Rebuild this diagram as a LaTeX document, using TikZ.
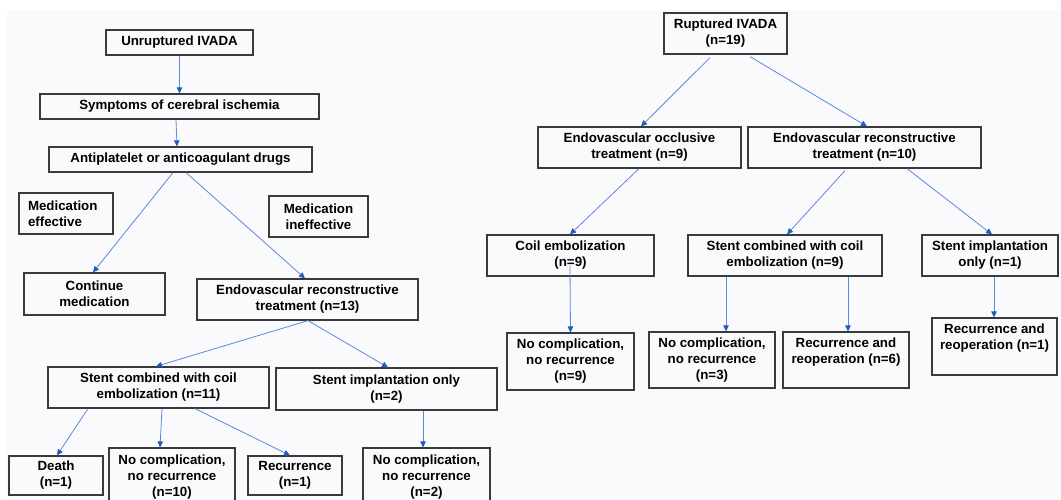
\documentclass[tikz,border=0pt]{standalone}
\usepackage{fontspec}
\setmainfont{Liberation Sans}
\usetikzlibrary{arrows.meta}
\definecolor{boxgray}{HTML}{3A3A3A}
\definecolor{lineblue}{HTML}{5A8AD8}
\definecolor{tipblue}{HTML}{1E5CC0}
\definecolor{bgtint}{HTML}{FAFAFD}
\begin{document}
\begin{tikzpicture}[x=1pt,y=-1pt,
 box/.style={draw=boxgray, line width=1.2pt, inner sep=0pt, align=center,
   font=\fontsize{13.3}{16}\selectfont\bfseries},
 conn/.style={draw=lineblue, line width=0.8pt,
   -{Triangle[length=6pt,width=5.5pt,color=tipblue]}},
]
\useasboundingbox (0,0) rectangle (1061,500);
\begin{scope}
\clip (0,0) rectangle (1061,500);
\fill[white] (0,0) rectangle (1061,500);
\fill[bgtint] (7,10) rectangle (1061,500);

% ---------- left tree ----------
\node[box, minimum width=147pt, minimum height=25pt] (unr) at (179.5,42.5) {Unruptured IVADA};
\node[box, minimum width=279pt, minimum height=25pt] (sym) at (179.5,106.5) {Symptoms of cerebral ischemia};
\node[box, minimum width=263pt, minimum height=25pt] (anti) at (180.5,159.5) {Antiplatelet or anticoagulant drugs};
\node[box, minimum height=41pt, text width=76pt, inner xsep=9pt, align=left] (meff) at (66,213.5) {Medication\\effective};
\node[box, minimum width=99pt, minimum height=41pt] (mineff) at (318.5,216.5) {Medication\\ineffective};
\node[box, minimum width=141pt, minimum height=42pt] (cont) at (94.5,294) {Continue\\medication};
\node[box, minimum width=221pt, minimum height=41pt] (endo13) at (307.5,299.5) {Endovascular reconstructive\\treatment (n=13)};
\node[box, minimum width=221pt, minimum height=41pt] (sc11) at (158.5,387.5) {Stent combined with coil\\embolization (n=11)};
\node[box, minimum width=221pt, minimum height=42pt] (si2) at (386.5,389) {Stent implantation only\\(n=2)};
\node[box, minimum width=94pt, minimum height=39pt] (death) at (56,475.5) {Death\\(n=1)};
\node[box, minimum width=126pt, minimum height=58pt] (nc10) at (172,477) {No complication,\\no recurrence\\(n=10)};
\node[box, minimum width=94pt, minimum height=39pt] (rec1) at (295,475.5) {Recurrence\\(n=1)};
\node[box, minimum width=127pt, minimum height=58pt] (nc2) at (426.5,477) {No complication,\\no recurrence\\(n=2)};

% ---------- right tree ----------
\node[box, minimum width=123pt, minimum height=41pt] (rup) at (725.5,33.5) {Ruptured IVADA\\(n=19)};
\node[box, minimum width=203pt, minimum height=41pt] (occ) at (639.5,147.5) {Endovascular occlusive\\treatment (n=9)};
\node[box, minimum width=233pt, minimum height=41pt] (rec10) at (864.5,147.5) {Endovascular reconstructive\\treatment (n=10)};
\node[box, minimum width=167pt, minimum height=41pt] (coil) at (570.5,255.5) {Coil embolization\\(n=9)};
\node[box, minimum width=194pt, minimum height=41pt] (sc9) at (785,255.5) {Stent combined with coil\\embolization (n=9)};
\node[box, minimum width=136pt, minimum height=41pt] (si1) at (990,255.5) {Stent implantation\\only (n=1)};
\node[box, minimum width=127pt, minimum height=57pt] (nc9) at (570.5,361.5) {No complication,\\no recurrence\\(n=9)};
\node[box, minimum width=126pt, minimum height=56pt] (nc3) at (712,360) {No complication,\\no recurrence\\(n=3)};
\node[box, minimum width=126pt, minimum height=56pt] (rr6) at (846,360) {Recurrence and\\reoperation (n=6)\\\vphantom{Ag}};
\node[box, minimum width=125pt, minimum height=57pt] (rr1) at (994.5,346.5) {Recurrence and\\reoperation (n=1)\\\vphantom{Ag}};

% ---------- connectors left ----------
\draw[conn] (unr.south) -- (sym.north);
\draw[conn] ([xshift=-3.5pt]sym.south) -- ([xshift=-3.5pt]anti.north);
\draw[conn] ([xshift=-7.5pt]anti.south) -- ([xshift=-1.5pt]cont.north);
\draw[conn] ([xshift=5.5pt]anti.south) -- ([xshift=-2.5pt]endo13.north);
\draw[conn] ([xshift=0.5pt]endo13.south) -- ([xshift=-2.5pt]sc11.north);
\draw[conn] ([xshift=0.5pt]endo13.south) -- ([xshift=1.5pt]si2.north);
\draw[conn] ([xshift=-70.5pt]sc11.south) -- ([xshift=1pt]death.north);
\draw[conn] ([xshift=3.5pt]sc11.south) -- ([xshift=-12pt]nc10.north);
\draw[conn] ([xshift=36.5pt]sc11.south) -- ([xshift=-5pt]rec1.north);
\draw[conn] ([xshift=36.5pt]si2.south) -- ([xshift=-3.5pt]nc2.north);

% ---------- connectors right ----------
\draw[conn] ([xshift=-15.5pt,yshift=-3pt]rup.south) -- ([xshift=1.5pt]occ.north);
\draw[conn] ([xshift=24.5pt,yshift=-2pt]rup.south) -- ([xshift=2.5pt]rec10.north);
\draw[conn] ([xshift=-0.5pt]occ.south) -- ([xshift=-0.5pt]coil.north);
\draw[conn] ([xshift=-19.5pt,yshift=-2pt]rec10.south) -- ([xshift=2pt]sc9.north);
\draw[conn] ([xshift=42.5pt]rec10.south) -- ([xshift=2pt]si1.north);
\draw[conn] ([xshift=-0.5pt,yshift=11pt]coil.south) -- (nc9.north);
\draw[conn] ([xshift=-59pt]sc9.south) -- ([xshift=14pt]nc3.north);
\draw[conn] ([xshift=63pt]sc9.south) -- ([xshift=2pt]rr6.north);
\draw[conn] ([xshift=4pt]si1.south) -- ([xshift=-0.5pt]rr1.north);
\end{scope}
\end{tikzpicture}
\end{document}
